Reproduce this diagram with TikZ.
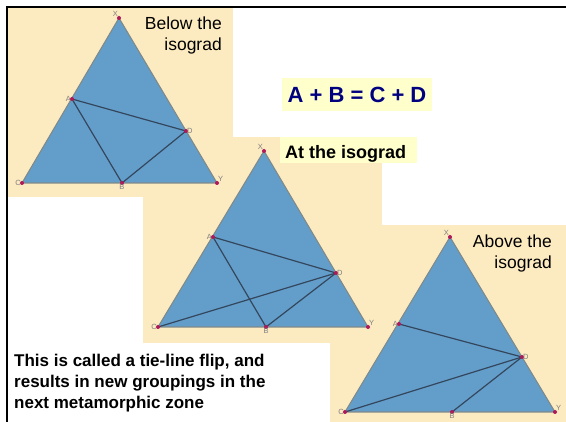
\documentclass[tikz,border=0pt]{standalone}
\usepackage{fontspec}
\setmainfont{Liberation Sans}
\definecolor{beige}{HTML}{FCEAC0}
\definecolor{paleyellow}{HTML}{FFFFCC}
\definecolor{triblue}{HTML}{639ECB}
\definecolor{triedge}{HTML}{7E8A8A}
\definecolor{tiecol}{HTML}{34465C}
\definecolor{ptcol}{HTML}{B0185A}
\definecolor{navy}{HTML}{000080}
\begin{document}
\begin{tikzpicture}[x=1pt,y=-1pt,
  tri/.style={fill=triblue,draw=triedge,line width=1.1pt,line join=round},
  tie/.style={draw=tiecol,line width=1.2pt},
  pt/.style={circle,fill=ptcol,inner sep=0pt,minimum size=4pt},
  lbl/.style={font=\fontsize{7.5}{7.5}\selectfont,text=gray,inner sep=1pt},
  panel/.style={fill=beige,draw=none},
  caption/.style={font=\fontsize{17.5}{21}\selectfont,inner sep=0pt,align=right},
  boldtext/.style={font=\bfseries\fontsize{17}{21}\selectfont,inner sep=0pt,align=left}]
\useasboundingbox (0,0) rectangle (566,422);
\fill[white] (0,0) rectangle (566,422);
% panels
\fill[panel] (8,8) rectangle (233,197);
\fill[panel] (143,137) rectangle (382,343);
\fill[panel] (330,225) rectangle (566,422);
% frame
\begin{scope}
\clip (0,0) rectangle (566,422);
\draw[line width=2pt] (7,440) -- (7,7) -- (580,7);
\end{scope}
% Triangle 1
\coordinate (X1) at (119,18); \coordinate (C1) at (22,183); \coordinate (Y1) at (217,183);
\coordinate (A1) at (72,99); \coordinate (D1) at (186,131); \coordinate (B1) at (122,183);
\filldraw[tri] (X1) -- (C1) -- (Y1) -- cycle;
\draw[tie] (A1) -- (D1);
\draw[tie] (A1) -- (B1);
\draw[tie] (B1) -- (D1);
\foreach \p in {X1,C1,Y1,A1,D1,B1} \node[pt] (p\p) at (\p) {};
\node[lbl,anchor=south east] (lX1) at (X1) {X};
\node[lbl,anchor=east] (lA1) at (A1) {A};
\node[lbl,anchor=west] (lD1) at (D1) {D};
\node[lbl,anchor=south west] (lY1) at (Y1) {Y};
\node[lbl,anchor=east] (lC1) at (C1) {C};
\node[lbl,anchor=north] (lB1) at (B1) {B};
\node[caption,anchor=north east] (cap1) at (222,17) {Below the\\isograd};
% Triangle 2
\coordinate (X2) at (264,151); \coordinate (C2) at (158,327); \coordinate (Y2) at (368,327);
\coordinate (A2) at (213,237); \coordinate (D2) at (336,273); \coordinate (B2) at (266,327);
\filldraw[tri] (X2) -- (C2) -- (Y2) -- cycle;
\draw[tie] (A2) -- (D2);
\draw[tie] (A2) -- (B2);
\draw[tie] (B2) -- (D2);
\draw[tie] (C2) -- (D2);
\foreach \p in {X2,C2,Y2,A2,D2,B2} \node[pt] (p\p) at (\p) {};
\node[lbl,anchor=south east] (lX2) at (X2) {X};
\node[lbl,anchor=east] (lA2) at (A2) {A};
\node[lbl,anchor=west] (lD2) at (D2) {D};
\node[lbl,anchor=south west] (lY2) at (Y2) {Y};
\node[lbl,anchor=east] (lC2) at (C2) {C};
\node[lbl,anchor=north] (lB2) at (B2) {B};
% Triangle 3
\coordinate (X3) at (450,237); \coordinate (C3) at (345,412); \coordinate (Y3) at (555,412);
\coordinate (A3) at (399,324); \coordinate (D3) at (522,357); \coordinate (B3) at (452,412);
\filldraw[tri] (X3) -- (C3) -- (Y3) -- cycle;
\draw[tie] (A3) -- (D3);
\draw[tie] (C3) -- (D3);
\draw[tie] (B3) -- (D3);
\foreach \p in {X3,C3,Y3,A3,D3,B3} \node[pt] (p\p) at (\p) {};
\node[lbl,anchor=south east] (lX3) at (X3) {X};
\node[lbl,anchor=east] (lA3) at (A3) {A};
\node[lbl,anchor=west] (lD3) at (D3) {D};
\node[lbl,anchor=south west] (lY3) at (Y3) {Y};
\node[lbl,anchor=east] (lC3) at (C3) {C};
\node[lbl,anchor=north] (lB3) at (B3) {B};
\node[caption,anchor=north east] (cap3) at (552,235) {Above the\\isograd};
% At the isograd
\fill[paleyellow] (280,137) rectangle (417,163);
\node[font=\bfseries\fontsize{18}{21}\selectfont,anchor=base west,inner sep=0pt] (at) at (285,159) {At the isograd};
% Equation
\fill[paleyellow] (282,78) rectangle (432,111);
\node[font=\bfseries\fontsize{22}{26}\selectfont,text=navy,inner sep=0pt] (eq) at (357,95) {A + B = C + D};
% bottom caption
\node[boldtext,anchor=north west] (flip) at (14,354) {This is called a tie-line flip, and\\results in new groupings in the\\next metamorphic zone};
\end{tikzpicture}
\end{document}
